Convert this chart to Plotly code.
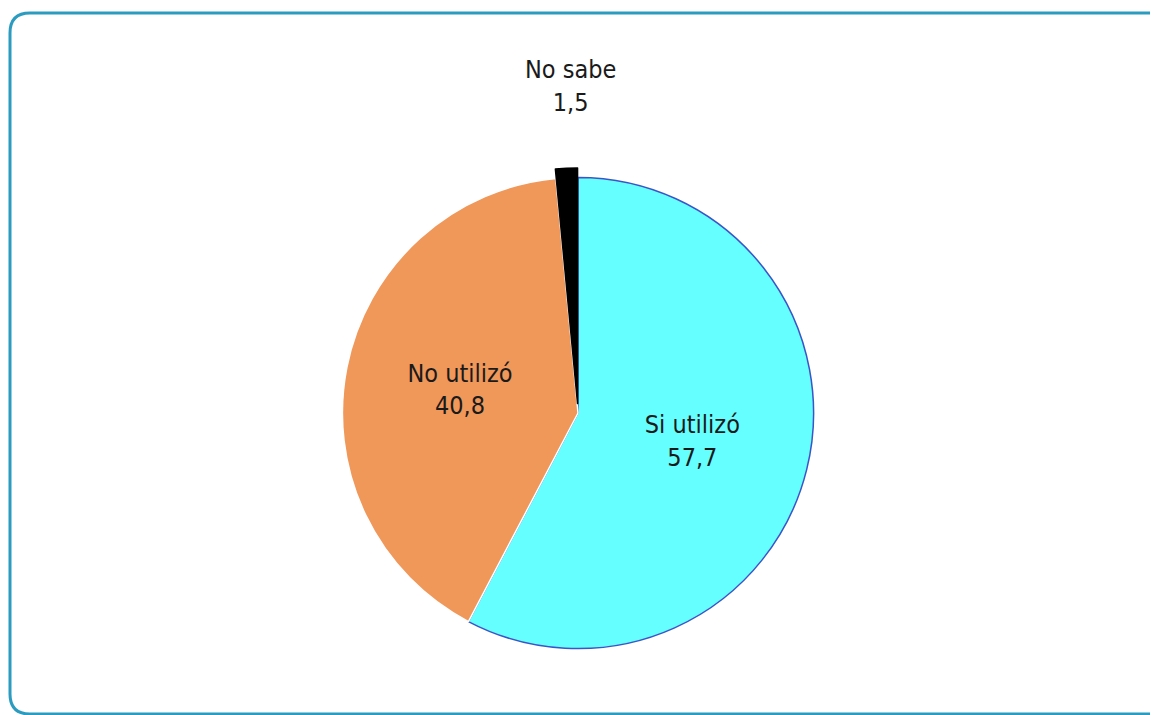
import plotly.graph_objects as go

labels = ["Si utilizó", "No utilizó", "No sabe"]
values = [57.7, 40.8, 1.5]
colors = ["#66FFFF", "#F0975A", "#000000"]
line_colors = ["#3a55c8", "#FFFFFF", "#000000"]
pulls = [0, 0, 0.04]

# page body has an 8px margin: the figure is drawn from (8, 8) of the window
OFF = 8
W, H = 1158 - OFF, 715 - OFF
FONT = "Liberation Sans Narrow, DejaVu Sans Condensed, Roboto Condensed, Liberation Sans, Arial"
FSIZE = 25

cx, cy, rad = 578 - OFF, 413 - OFF, 245

fig = go.Figure()
fig.add_trace(go.Pie(
    labels=labels,
    values=values,
    sort=False,
    direction="clockwise",
    rotation=0,
    marker=dict(colors=colors, line=dict(color=line_colors, width=1.5)),
    pull=pulls,
    textposition="inside",
    texttemplate=["%{label}<br>%{value:.1f}", "%{label}<br>%{value:.1f}", ""],
    insidetextorientation="horizontal",
    textfont=dict(family=FONT, size=FSIZE, color="#1a1a1a"),
    showlegend=False,
    hoverinfo="label+value",
    domain=dict(x=[(cx - rad) / W, (cx + rad) / W], y=[(H - cy - rad) / H, (H - cy + rad) / H]),
))

# label of the small slice, placed above the pie
fig.add_annotation(
    text=f"{labels[2]}<br>{values[2]:.1f}".replace(".", ","),
    xref="paper", yref="paper",
    x=(570 - OFF) / W, y=(H - (86 - OFF)) / H,
    xanchor="center", yanchor="middle",
    showarrow=False,
    font=dict(family=FONT, size=FSIZE, color="#1a1a1a"),
)

# rounded frame (pixel-sized path anchored at top-left of the paper)
x0, y0, x1, y1, r = 10 - OFF, 13 - OFF, 1170 - OFF, 714 - OFF, 20
path = (f"M {x0},{-(y0 + r)} Q {x0},{-y0} {x0 + r},{-y0} L {x1 - r},{-y0} "
        f"Q {x1},{-y0} {x1},{-(y0 + r)} L {x1},{-(y1 - r)} Q {x1},{-y1} {x1 - r},{-y1} "
        f"L {x0 + r},{-y1} Q {x0},{-y1} {x0},{-(y1 - r)} Z")
fig.add_shape(type="path", xref="paper", yref="paper", xsizemode="pixel", ysizemode="pixel",
              xanchor=0, yanchor=1, path=path, line=dict(color="#2b9cbf", width=3), layer="below")

fig.update_layout(
    width=W, height=H,
    margin=dict(l=0, r=0, t=0, b=0),
    paper_bgcolor="white",
    plot_bgcolor="white",
    separators=",.",
)

fig.write_html("out.html")
